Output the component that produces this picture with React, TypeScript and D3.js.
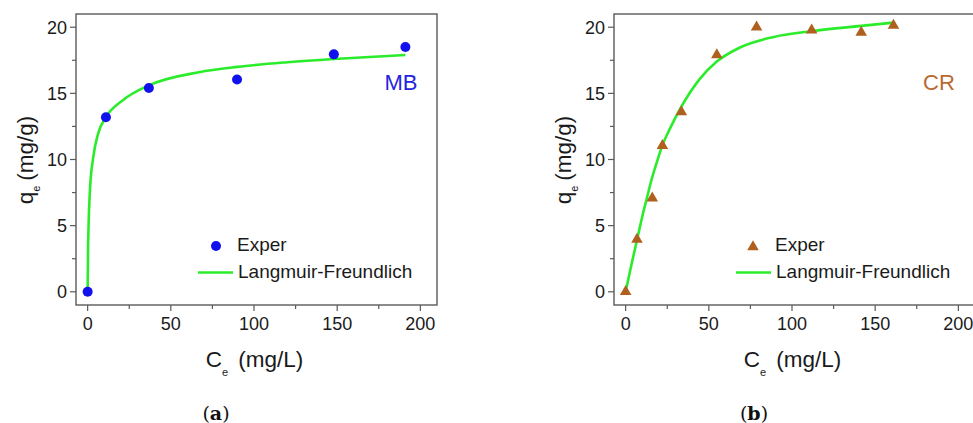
import React from 'react';
import * as d3 from 'd3';

// experimental points, MB (panel a)
const mbCe = [0, 11, 36.8, 89.8, 148, 191];
const mbQe = [0, 13.2, 15.4, 16.05, 17.95, 18.5];
// fitted curve
const mbFitCe = [0, 0.2, 0.6, 1.4, 3.4, 6.4, 11, 21.4, 36.8, 67, 90, 120, 148, 191];
const mbFitQe = [0, 2.7, 5.2, 7.7, 10.2, 12.0, 13.2, 14.5, 15.6, 16.6, 17.0, 17.35, 17.6, 17.9];

// experimental points, CR (panel b)
const crCe = [0, 6.8, 16, 22.1, 33.5, 54.8, 78.7, 111.8, 141.6, 161];
const crQe = [0, 3.95, 7.07, 11.04, 13.6, 17.9, 20.0, 19.77, 19.6, 20.13];
const crFitCe = [0, 3.4, 6.8, 10.4, 13, 15.5, 18.5, 22.5, 26.5, 33.5, 44.6, 54.8, 68.4, 88.5, 111.8, 141.6, 161];
const crFitQe = [0, 2.0, 3.9, 5.9, 7.2, 8.45, 9.7, 11.2, 12.3, 14.0, 16.1, 17.4, 18.45, 19.25, 19.7, 20.1, 20.35];

const xTicks = [0, 50, 100, 150, 200];
const xMinor = [25, 75, 125, 175];
const yTicks = [0, 5, 10, 15, 20];
const yMinor = [2.5, 7.5, 12.5, 17.5];

const FONT = '"Liberation Sans", Arial, sans-serif';
const GREEN = '#2aec2a';

function Panel({ ox, ce, qe, fitCe, fitQe, marker, color, labelColor, name, tag }) {
  const x = d3.scaleLinear().domain([-7, 210]).range([ox, ox + 361]);
  const y = d3.scaleLinear().domain([-1, 21]).range([305, 14]);
  const line = d3.line<number>()
    .x((d, i) => x(fitCe[i]))
    .y(d => y(d))
    .curve(d3.curveMonotoneX);
  const tri = d3.symbol(d3.symbolTriangle, 58)();
  const [x0, x1] = x.range();
  const cx = (x0 + x1) / 2;

  return (
    <g>
      {/* frame */}
      <rect x={x0} y={14} width={x1 - x0} height={291} fill="none" stroke="#5a5a5a" strokeWidth={1.4} />
      {/* x ticks */}
      {xTicks.map(t => (
        <g key={'x' + t}>
          <line x1={x(t)} x2={x(t)} y1={305} y2={311} stroke="#5a5a5a" strokeWidth={1.2} />
          <text x={x(t)} y={330} textAnchor="middle" fontSize={18} fontFamily={FONT} fill="#1a1a1a">{t}</text>
        </g>
      ))}
      {xMinor.map(t => (
        <line key={'xm' + t} x1={x(t)} x2={x(t)} y1={305} y2={309} stroke="#5a5a5a" strokeWidth={1.2} />
      ))}
      {/* y ticks */}
      {yTicks.map(t => (
        <g key={'y' + t}>
          <line x1={x0 - 6} x2={x0} y1={y(t)} y2={y(t)} stroke="#5a5a5a" strokeWidth={1.2} />
          <text x={x0 - 9} y={y(t) + 6.5} textAnchor="end" fontSize={18} fontFamily={FONT} fill="#1a1a1a">{t}</text>
        </g>
      ))}
      {yMinor.map(t => (
        <line key={'ym' + t} x1={x0 - 4} x2={x0} y1={y(t)} y2={y(t)} stroke="#5a5a5a" strokeWidth={1.2} />
      ))}

      {/* fitted curve */}
      <path d={line(fitQe) || ''} fill="none" stroke={GREEN} strokeWidth={2.6} />
      {/* points */}
      {ce.map((c, i) =>
        marker === 'circle'
          ? <circle key={i} cx={x(c)} cy={y(qe[i])} r={5} fill={color} />
          : <path key={i} d={tri || ''} transform={`translate(${x(c)},${y(qe[i])})`} fill={color} />
      )}

      {/* sample name */}
      <text x={x0 + 325} y={90} textAnchor="middle" fontSize={22} fontFamily={FONT} fill={labelColor}>{name}</text>

      {/* legend */}
      {marker === 'circle'
        ? <circle cx={x0 + 140} cy={246} r={5} fill={color} />
        : <path d={tri || ''} transform={`translate(${x0 + 139},${247})`} fill={color} />}
      <text x={x0 + 161} y={251} fontSize={19} fontFamily={FONT} fill="#1a1a1a">Exper</text>
      <line x1={x0 + 122} x2={x0 + 157} y1={272.5} y2={272.5} stroke={GREEN} strokeWidth={2.6} />
      <text x={x0 + 162} y={278} fontSize={19} fontFamily={FONT} fill="#1a1a1a">Langmuir-Freundlich</text>

      {/* axis titles */}
      <text transform={`translate(${x0 - 43},160) rotate(-90)`} textAnchor="middle" fontSize={22.5} fontFamily={FONT} fill="#1a1a1a">
        q<tspan fontSize={11} dy={7}>e</tspan><tspan dy={-7} dx={5}>(mg/g)</tspan>
      </text>
      <text x={cx - 2} y={367} textAnchor="middle" fontSize={22.5} fontFamily={FONT} fill="#1a1a1a">
        C<tspan fontSize={11} dy={9}>e</tspan><tspan dy={-9} dx={10}>(mg/L)</tspan>
      </text>

      {/* panel tag */}
      <text x={x0 + 140} y={419.5} textAnchor="middle" fontSize={19} fontFamily='"DejaVu Serif", serif' fill="#111">
        (<tspan fontWeight="bold">{tag}</tspan>)
      </text>
    </g>
  );
}

export default function App() {
  return (
    <svg width={973} height={423} style={{ position: 'absolute', left: 0, top: 0, background: '#fff' }}>
      <Panel ox={76} ce={mbCe} qe={mbQe} fitCe={mbFitCe} fitQe={mbFitQe} marker="circle" color="#1111ee" labelColor="#2424e0" name="MB" tag="a" />
      <Panel ox={614} ce={crCe} qe={crQe} fitCe={crFitCe} fitQe={crFitQe} marker="triangle" color="#b0601e" labelColor="#b96a2e" name="CR" tag="b" />
    </svg>
  );
}
